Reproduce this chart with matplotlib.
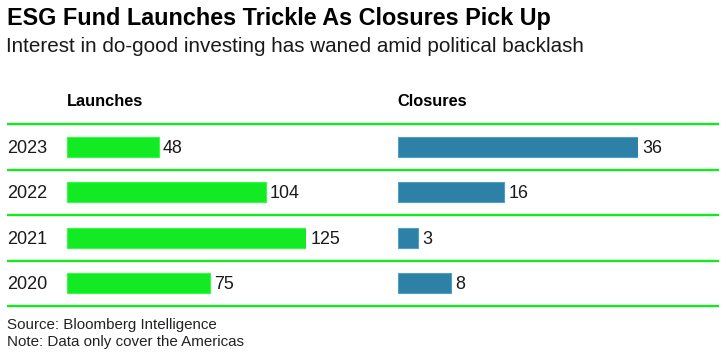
import matplotlib
matplotlib.use("Agg")
import matplotlib.pyplot as plt

years = ["2023", "2022", "2021", "2020"]
launches = [48, 104, 125, 75]
closures = [36, 16, 3, 8]

title = "ESG Fund Launches Trickle As Closures Pick Up"
subtitle = "Interest in do-good investing has waned amid political backlash"
headers = ["Launches", "Closures"]
source = "Source: Bloomberg Intelligence"
note = "Note: Data only cover the Americas"

plt.rcParams['font.family'] = ['Liberation Sans', 'DejaVu Sans']

W, H = 726, 355
fig = plt.figure(figsize=(W / 100, H / 100), dpi=100)

def fx(px):
    return px / W

def fy(py):
    return 1 - py / H

top_px, bot_px = 124, 306
green_line = "#14E81E"
green_bar = "#12EB23"
blue_bar = "#2E81A6"

# line axes
axl = fig.add_axes([fx(7), fy(bot_px), fx(719 - 7), (bot_px - top_px) / H])
axl.set_xlim(0, 1)
axl.set_ylim(len(years) - 0.5, -0.5)
for i in range(len(years) + 1):
    axl.axhline(i - 0.5, color=green_line, lw=1.7, solid_capstyle='butt', clip_on=False)
axl.axis('off')
axl.patch.set_alpha(0)

for i, y in enumerate(years):
    axl.annotate(y, (0, i), xytext=(0, -1), textcoords='offset points',
                 ha='left', va='center', fontsize=13, color='#1a1a1a')

def bar_axes(x0, x1, vmax, vals, color):
    ax = fig.add_axes([fx(x0), fy(bot_px), fx(x1 - x0), (bot_px - top_px) / H])
    ax.set_xlim(0, vmax)
    ax.set_ylim(len(vals) - 0.5, -0.5)
    ax.barh(range(len(vals)), vals, height=0.44, color=color,
            edgecolor=matplotlib.colors.to_hex([min(1, c + 0.12) for c in matplotlib.colors.to_rgb(color)]),
            linewidth=0.8)
    for i, v in enumerate(vals):
        ax.annotate(str(v), (v, i), xytext=(3, -1), textcoords='offset points',
                    ha='left', va='center', fontsize=12.9, color='#1a1a1a')
    ax.axis('off')
    ax.patch.set_alpha(0)
    return ax

bar_axes(67, 306, max(launches), launches, green_bar)
bar_axes(397.7, 637.7, max(closures), closures, blue_bar)

fig.text(fx(7), fy(18), title, fontsize=16.8, fontweight='bold', ha='left', va='center', color='black')
fig.text(fx(6), fy(47), subtitle, fontsize=14.9, ha='left', va='center', color='#1a1a1a')
fig.text(fx(67), fy(101), headers[0], fontsize=11.8, fontweight='bold', ha='left', va='center', color='black')
fig.text(fx(397), fy(101), headers[1], fontsize=11.8, fontweight='bold', ha='left', va='center', color='black')
fig.text(fx(7), fy(325), source, fontsize=10.9, ha='left', va='center', color='#222222')
fig.text(fx(7), fy(342), note, fontsize=10.9, ha='left', va='center', color='#222222')

fig.savefig("out.png", dpi=100, facecolor='white')
